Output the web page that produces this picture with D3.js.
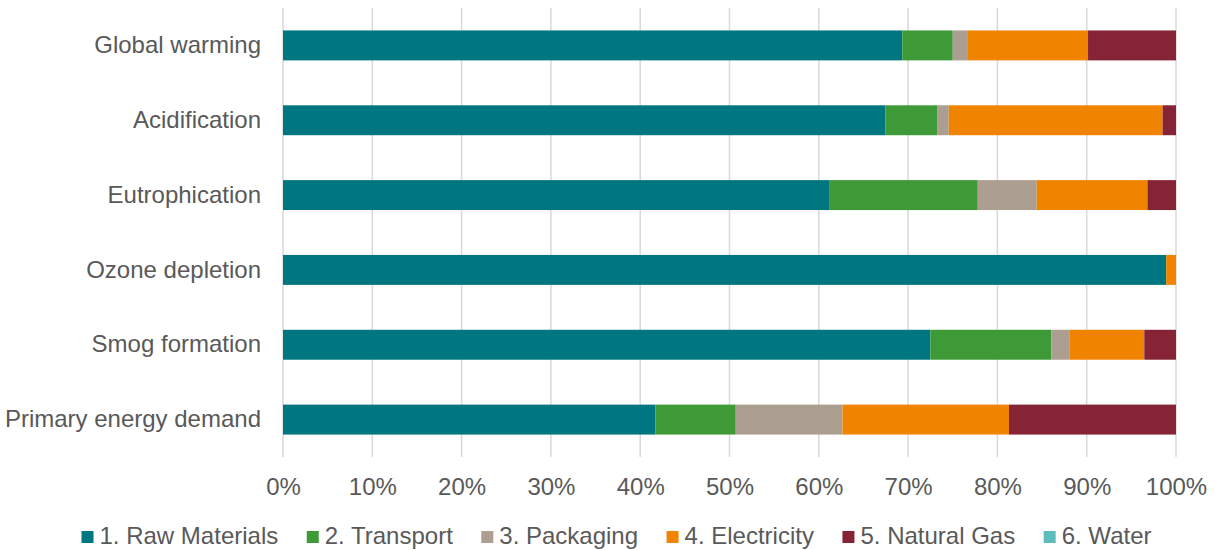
<!DOCTYPE html>
<html><head><meta charset="utf-8">
<script src="https://cdn.jsdelivr.net/npm/d3@7"></script>
<style>body{margin:0;background:#fff}svg{display:block}text{font-family:"Liberation Sans",Arial,sans-serif}</style>
</head><body><svg id="c" width="1215" height="550"></svg>
<script>
const categories = ["Global warming","Acidification","Eutrophication","Ozone depletion","Smog formation","Primary energy demand"];
const seriesNames = ["1. Raw Materials","2. Transport","3. Packaging","4. Electricity","5. Natural Gas","6. Water"];
const rawMaterials = [69.35, 67.45, 61.15, 98.9, 72.5, 41.7];
const transport    = [5.65, 5.85, 16.65, 0, 13.55, 9.0];
const packaging    = [1.7, 1.25, 6.6, 0, 2.0, 11.95];
const electricity  = [13.45, 23.95, 12.4, 1.1, 8.4, 18.65];
const naturalGas   = [9.85, 1.5, 3.2, 0, 3.55, 18.7];
const water        = [0, 0, 0, 0, 0, 0];
const tickValues = [0,10,20,30,40,50,60,70,80,90,100];
const colors = ["#007680","#3E9A36","#AC9E90","#F08400","#862334","#5BBDBC"];

const seriesVals = [rawMaterials, transport, packaging, electricity, naturalGas, water];
const rows = categories.map((c,i)=>{const o={cat:c}; seriesNames.forEach((s,j)=>o[s]=seriesVals[j][i]); return o;});
const stack = d3.stack().keys(seriesNames)(rows);

const svg = d3.select("#c");
const m = {left:283, right:1176, top:8, bottom:457};
const x = d3.scaleLinear().domain([0,100]).range([m.left, m.right]);
const y = d3.scaleBand().domain(categories).range([m.top, m.bottom]).paddingInner(0.6).paddingOuter(0.3);
const txt = "#595959";
const FS = 24;

// gridlines
svg.append("g").selectAll("line").data(tickValues).join("line")
  .attr("x1",d=>x(d)).attr("x2",d=>x(d)).attr("y1",m.top).attr("y2",m.bottom)
  .attr("stroke","#D9D9D9").attr("stroke-width",1.5);

// bars
svg.append("g").selectAll("g").data(stack).join("g").attr("fill",(d,i)=>colors[i])
  .selectAll("rect").data(d=>d).join("rect")
  .attr("x",d=>x(d[0])).attr("width",d=>Math.max(0,x(d[1])-x(d[0])))
  .attr("y",d=>y(d.data.cat)).attr("height",y.bandwidth());

// x axis labels
const xa = svg.append("g").attr("transform",`translate(0,${m.bottom})`)
  .call(d3.axisBottom(x).tickValues(tickValues).tickFormat(d=>d+"%").tickSize(0).tickPadding(21));
xa.select(".domain").remove();
xa.selectAll("text").attr("font-size",FS).attr("fill",txt).style("font-family","'Liberation Sans',Arial,sans-serif");

// y axis labels
const ya = svg.append("g").attr("transform",`translate(${m.left},0)`)
  .call(d3.axisLeft(y).tickSize(0).tickPadding(22));
ya.select(".domain").remove();
ya.selectAll("text").attr("font-size",FS).attr("fill",txt).style("font-family","'Liberation Sans',Arial,sans-serif");

// legend
const lg = svg.append("g");
const items = lg.selectAll("g").data(seriesNames).join("g");
items.append("rect").attr("width",12).attr("height",12).attr("y",-13).attr("fill",(d,i)=>colors[i]);
items.append("text").attr("x",18).attr("y",0).attr("font-size",FS).attr("fill",txt).text(d=>d);
let cx=0; const gap=28.5;
items.each(function(){const g=d3.select(this); g.attr("transform",`translate(${cx},0)`); cx+=18+g.select("text").node().getComputedTextLength()+gap;});
const total = cx-gap;
lg.attr("transform",`translate(${616.5-total/2},544)`);
</script></body></html>
